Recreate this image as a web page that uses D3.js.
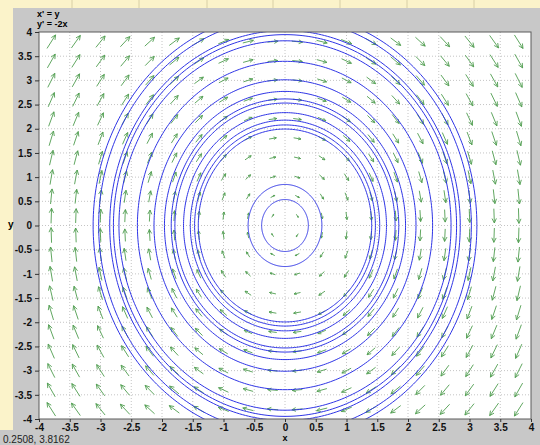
<!DOCTYPE html>
<html>
<head>
<meta charset="utf-8">
<script src="https://cdn.jsdelivr.net/npm/d3@7/dist/d3.min.js"></script>
<style>
  body { margin: 0; background: #c8c8c8; }
  text { font-family: "Liberation Sans", Arial, sans-serif; }
</style>
</head>
<body>
<svg id="chart" width="540" height="445"></svg>
<script>
// equations shown top-left
const equations = ["x' = y", "y' = -2x"]
// axis ticks
const xTicks = [-4, -3.5, -3, -2.5, -2, -1.5, -1, -0.5, 0, 0.5, 1, 1.5, 2, 2.5, 3, 3.5, 4]
const yTicks = [-4, -3.5, -3, -2.5, -2, -1.5, -1, -0.5, 0, 0.5, 1, 1.5, 2, 2.5, 3, 3.5, 4]
// points of the direction field grid
const fieldX = [-3.8, -3.4, -3, -2.6, -2.2, -1.8, -1.4, -1, -0.6, -0.2, 0.2, 0.6, 1, 1.4, 1.8, 2.2, 2.6, 3, 3.4, 3.8]
const fieldY = [-3.8, -3.4, -3, -2.6, -2.2, -1.8, -1.4, -1, -0.6, -0.2, 0.2, 0.6, 1, 1.4, 1.8, 2.2, 2.6, 3, 3.4, 3.8]
// x where each plotted trajectory crosses y = 0
const orbitStarts = [0.38, 0.60, 1.41, 1.47, 1.54, 1.65, 1.79, 1.85, 1.96, 2.13, 2.40, 2.70, 2.79, 2.85, 3.03, 3.12]
const statusText = '0.2508, 3.8162'
// top toolbar dividers
const tabEdges = [72, 139, 207, 273, 340, 407, 474]

const field = (x, y) => [y, -2 * x]

const margin = { left: 39, top: 32 }
const width = 492
const height = 387

const svg = d3.select('#chart')

// window background pieces
svg.append('rect').attr('width', 540).attr('height', 445).attr('fill', '#c8c8c8')
svg.append('rect').attr('width', 540).attr('height', 8).attr('fill', '#fbf3ca')
svg.append('rect').attr('width', 13).attr('height', 430).attr('fill', '#fbf3ca')
svg.selectAll('.tab').data(tabEdges).enter().append('line')
  .attr('x1', d => d).attr('x2', d => d).attr('y1', 0).attr('y2', 8)
  .attr('stroke', '#d8cfa6')

const g = svg.append('g').attr('transform', `translate(${margin.left},${margin.top})`)

const x = d3.scaleLinear().domain([-4, 4]).range([0, width])
const y = d3.scaleLinear().domain([-4, 4]).range([height, 0])

g.append('rect').attr('width', width).attr('height', height).attr('fill', '#fff')

// dotted grid
g.selectAll('.gx').data(xTicks.slice(1, -1)).enter().append('line')
  .attr('x1', d => x(d)).attr('x2', d => x(d)).attr('y1', 0).attr('y2', height)
  .attr('stroke', '#c4c4c4').attr('stroke-dasharray', '1,2')
g.selectAll('.gy').data(yTicks.slice(1, -1)).enter().append('line')
  .attr('y1', d => y(d)).attr('y2', d => y(d)).attr('x1', 0).attr('x2', width)
  .attr('stroke', '#c4c4c4').attr('stroke-dasharray', '1,2')

g.append('clipPath').attr('id', 'plotclip')
  .append('rect').attr('width', width).attr('height', height)

// direction field arrows
const pts = []
fieldX.forEach(px => fieldY.forEach(py => pts.push([px, py])))
const maxMag = d3.max(pts, p => Math.hypot(...field(p[0], p[1])))
const len = d3.scaleSqrt().domain([0, maxMag]).range([0, 16])
const kx = x(1) - x(0)
const ky = y(0) - y(1)

const arrows = g.append('g').attr('stroke', '#4f9d4f').attr('stroke-width', 0.9).attr('fill', 'none')
pts.forEach(p => {
  const [vx, vy] = field(p[0], p[1])
  const dx = vx * kx, dy = -vy * ky
  const m = Math.hypot(dx, dy)
  if (m === 0) return
  const ux = dx / m, uy = dy / m
  const L = len(Math.hypot(vx, vy))
  const cx = x(p[0]), cy = y(p[1])
  const x0 = cx - ux * L / 2, y0 = cy - uy * L / 2
  const x1 = cx + ux * L / 2, y1 = cy + uy * L / 2
  const h = Math.min(5, L * 0.4)
  const a = 0.45
  const back = [-ux, -uy]
  const r = ang => [back[0] * Math.cos(ang) - back[1] * Math.sin(ang), back[0] * Math.sin(ang) + back[1] * Math.cos(ang)]
  const l1 = r(a), l2 = r(-a)
  arrows.append('path')
    .attr('d', `M${x0},${y0}L${x1},${y1}M${x1 + l1[0] * h},${y1 + l1[1] * h}L${x1},${y1}L${x1 + l2[0] * h},${y1 + l2[1] * h}`)
})

// trajectories: solutions x = a cos t, y = -a*sqrt(2) sin t
const line = d3.line().x(d => x(d[0])).y(d => y(d[1]))
const angles = d3.range(0, 361).map(d => d * Math.PI / 180)
g.append('g').attr('clip-path', 'url(#plotclip)')
  .selectAll('path').data(orbitStarts).enter().append('path')
  .attr('d', a => line(angles.map(t => [a * Math.cos(t), -a * Math.SQRT2 * Math.sin(t)])))
  .attr('fill', 'none').attr('stroke', '#2f35e6').attr('stroke-width', 1)

// frame
g.append('rect').attr('width', width).attr('height', height)
  .attr('fill', 'none').attr('stroke', '#5a5a5a')

// axes
const fmt = d => String(d).replace('−', '-')
const xAxis = g.append('g').attr('transform', `translate(0,${height})`)
  .call(d3.axisBottom(x).tickValues(xTicks).tickFormat(fmt).tickSize(3).tickPadding(2))
const yAxis = g.append('g')
  .call(d3.axisLeft(y).tickValues(yTicks).tickFormat(fmt).tickSize(4).tickPadding(3))
;[xAxis, yAxis].forEach(ax => {
  ax.select('.domain').remove()
  ax.selectAll('line').attr('stroke', '#333')
  ax.selectAll('text').attr('font-size', 10).attr('font-weight', 'bold')
    .attr('fill', '#111').style('font-family', '"Liberation Sans", Arial, sans-serif')
})

// labels
svg.append('text').attr('x', margin.left + width / 2).attr('y', 441)
  .attr('text-anchor', 'middle').attr('font-size', 9).attr('font-weight', 'bold').text('x')
svg.append('text').attr('x', 8).attr('y', 228)
  .attr('font-size', 10).attr('font-weight', 'bold').text('y')
svg.selectAll('.eq').data(equations).enter().append('text')
  .attr('x', 37).attr('y', (d, i) => 17 + i * 10)
  .attr('font-size', 9).attr('font-weight', 'bold').text(d => d)
svg.append('text').attr('x', 3).attr('y', 443).attr('font-size', 10).attr('fill', '#222').text(statusText)
</script>
</body>
</html>
